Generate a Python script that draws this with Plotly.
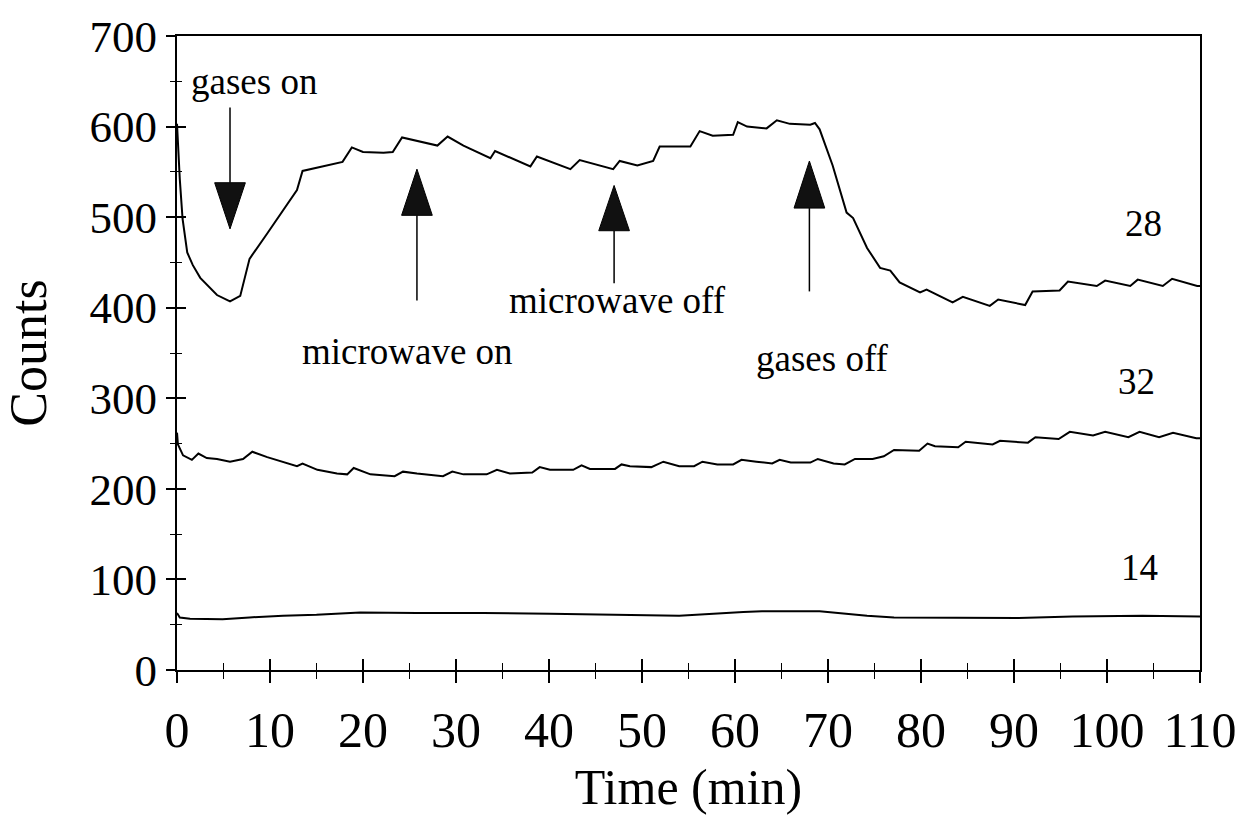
import plotly.graph_objects as go

# ---- data: mass-spec ion counts vs time ----
t28 = [0, 0.3, 0.6, 1.1, 1.7, 2.5, 4.3, 5.7, 6.8, 7.8, 9.7, 11.4, 12.9, 13.5, 17.8, 18.8, 20.0,
       22.2, 23.2, 24.2, 28.0, 29.1, 30.8, 33.7, 34.2, 38.0, 38.7, 42.3, 43.3, 46.9, 47.6, 49.5,
       51.2, 51.9, 55.2, 56.2, 57.6, 59.8, 60.3, 61.3, 63.4, 64.5, 65.9, 68.1, 68.6, 69.1, 70.5,
       72.0, 72.7, 74.2, 75.6, 76.7, 77.7, 79.9, 80.6, 83.4, 84.5, 87.4, 88.3, 91.2, 92.0, 94.9,
       95.8, 98.9, 99.8, 102.5, 103.3, 106.0, 107.0, 109.7, 110]
c28 = [603, 542, 498, 461, 447, 433, 414, 407, 413, 454, 482, 508, 530, 551, 561, 577, 572,
       571, 572, 588, 579, 589, 579, 565, 573, 556, 567, 553, 563, 553, 562, 557,
       562, 578, 578, 595, 590, 591, 605, 600, 598, 607, 603, 602, 604, 597, 557,
       505, 499, 466, 444, 441, 428, 417, 420, 406, 412, 402, 409, 403, 418, 419,
       429, 424, 430, 424, 431, 424, 432, 424, 424]

t32 = [0, 0.1, 0.65, 1.6, 2.3, 3.2, 4.3, 5.7, 7.1, 8.1, 9.7, 12.9, 13.5, 15.1, 17.2, 18.3, 19.0,
       20.8, 23.4, 24.3, 25.8, 28.6, 29.6, 30.8, 33.3, 34.4, 35.8, 38.2, 39.0, 40.1, 42.6, 43.5,
       44.4, 47.1, 47.8, 48.7, 51.0, 52.3, 54.0, 55.6, 56.5, 58.1, 59.8, 60.7, 62.3, 64.0, 64.8,
       66.0, 68.1, 68.9, 70.6, 71.8, 72.9, 74.8, 76.0, 77.1, 79.8, 80.7, 81.5, 84.0, 84.8, 87.7,
       88.5, 91.5, 92.3, 94.8, 96.0, 98.5, 99.8, 102.3, 103.5, 105.6, 107.1, 109.6, 110]
c32 = [262, 249, 237, 232, 239, 234, 233, 230, 233, 241, 235, 225, 228, 221, 217, 216, 223,
       216, 214, 219, 217, 214, 219, 216, 216, 221, 217, 218, 224, 221, 221, 226,
       222, 222, 227, 225, 224, 230, 225, 225, 230, 227, 227, 232, 230, 228, 232,
       229, 229, 233, 228, 227, 233, 233, 236, 243, 242, 250, 247, 246, 252, 249,
       253, 251, 257, 255, 263, 259, 263, 257, 263, 257, 262, 256, 256]

t14 = [0, 0.3, 1.4, 4.9, 7.8, 11.4, 15.0, 19.7, 25.8, 32.9, 40.1, 50.9, 54.0, 60.9, 62.9,
       69.1, 74.2, 77.1, 80.5, 90.5, 96.3, 103.8, 110]
c14 = [63, 58, 56.5, 56, 58, 60, 61, 63.5, 63, 63, 62, 61, 60, 64, 65,
       65, 60, 58, 58, 57.5, 59, 60, 59]

x_ticks = list(range(0, 111, 10))
y_ticks = list(range(0, 701, 100))

FONT = "Liberation Serif"
INK = "black"

fig = go.Figure()
fig.add_trace(go.Scatter(x=t28, y=c28, mode="lines", line=dict(color=INK, width=2),
                         showlegend=False, xaxis="x", yaxis="y"))
fig.add_trace(go.Scatter(x=t32, y=c32, mode="lines", line=dict(color=INK, width=2),
                         showlegend=False, xaxis="x", yaxis="y"))
# the m/z 14 trace sits on the twin axes that carry the inward half of the ticks
fig.add_trace(go.Scatter(x=t14, y=c14, mode="lines", line=dict(color=INK, width=2),
                         showlegend=False, xaxis="x2", yaxis="y2"))

# ---- event arrows: (time, tail, base of head, tip) ----
events = [
    ("gases on", 5.7, 621, 538, 487),
    ("microwave on", 25.8, 408, 502, 553),
    ("microwave off", 47.0, 427, 485, 535),
    ("gases off", 68.0, 418, 510, 562),
]
half_w = 1.65
shapes = []
for _, tx, tail, base, tip in events:
    shapes.append(dict(type="line", xref="x", yref="y", x0=tx, x1=tx, y0=tail, y1=base,
                       line=dict(color=INK, width=1.5)))
    shapes.append(dict(type="path", xref="x", yref="y",
                       path=f"M {tx - half_w},{base} L {tx + half_w},{base} L {tx},{tip} Z",
                       fillcolor="#111", line=dict(color=INK, width=1)))

labels = [
    ("gases on", 8.3, 650),
    ("microwave on", 24.8, 352),
    ("microwave off", 47.4, 408),
    ("gases off", 69.4, 344),
    ("28", 103.9, 493),
    ("32", 103.2, 318),
    ("14", 103.5, 113),
]
annotations = [dict(text=txt, x=lx, y=ly, xref="x", yref="y", showarrow=False,
                    font=dict(family=FONT, size=37, color=INK),
                    xanchor="center", yanchor="middle") for txt, lx, ly in labels]

axis_common = dict(showgrid=False, zeroline=False, color=INK, tickcolor=INK, tickwidth=1.5)

fig.update_layout(
    width=1249, height=823,
    margin=dict(l=177, r=49, t=28, b=153),
    paper_bgcolor="white", plot_bgcolor="white",
    font=dict(family=FONT, color=INK),
    shapes=shapes, annotations=annotations,
    xaxis=dict(range=[0, 110], tickvals=x_ticks, ticks="outside", ticklen=11,
               minor=dict(dtick=5, ticks="outside", ticklen=7, tickcolor=INK, tickwidth=1.2),
               showline=True, linecolor=INK, linewidth=2, mirror=True,
               tickfont=dict(family=FONT, size=50), ticklabelstandoff=4,
               title=dict(text="Time (min)", font=dict(family=FONT, size=50), standoff=12),
               **axis_common),
    yaxis=dict(range=[0, 700], tickvals=y_ticks, ticks="outside", ticklen=9,
               minor=dict(dtick=50, ticks="outside", ticklen=5, tickcolor=INK, tickwidth=1.2),
               showline=True, linecolor=INK, linewidth=2, mirror=True,
               tickfont=dict(family=FONT, size=45), ticklabelstandoff=0,
               title=dict(text="Counts", font=dict(family=FONT, size=52), standoff=34),
               **axis_common),
    xaxis2=dict(range=[0, 110], overlaying="x", anchor="y2", side="bottom",
                tickvals=x_ticks, ticks="inside", ticklen=11, showticklabels=False,
                minor=dict(dtick=5, ticks="inside", ticklen=7, tickcolor=INK, tickwidth=1.2),
                showline=False, **axis_common),
    yaxis2=dict(range=[0, 700], overlaying="y", anchor="x2", side="left",
                tickvals=y_ticks, ticks="inside", ticklen=9, showticklabels=False,
                minor=dict(dtick=50, ticks="inside", ticklen=5, tickcolor=INK, tickwidth=1.2),
                showline=False, **axis_common),
)

fig.write_html("out.html")
